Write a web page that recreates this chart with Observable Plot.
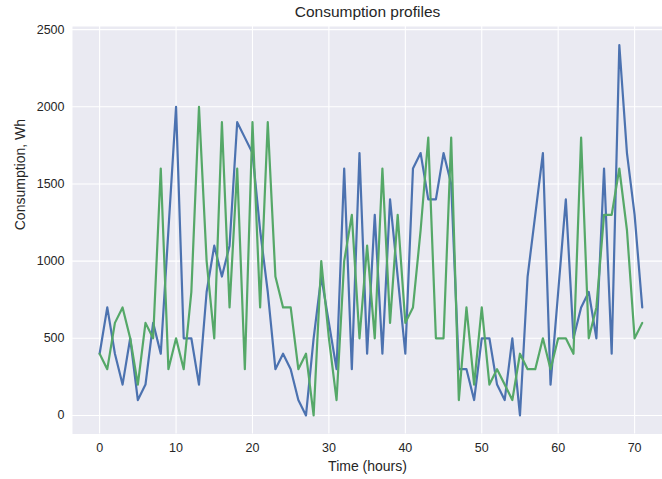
<!DOCTYPE html>
<html><head><meta charset="utf-8">
<script src="https://cdn.jsdelivr.net/npm/d3@7"></script>
<script src="https://cdn.jsdelivr.net/npm/@observablehq/plot@0.6"></script>
<style>body{margin:0;background:#fff} svg{display:block}</style>
</head><body><div id="chart"></div>
<script>
const hours = [0,1,2,3,4,5,6,7,8,9,10,11,12,13,14,15,16,17,18,19,20,21,22,23,24,25,26,27,28,29,30,31,32,33,34,35,
  36,37,38,39,40,41,42,43,44,45,46,47,48,49,50,51,52,53,54,55,56,57,58,59,60,61,62,63,64,65,66,67,68,69,70,71];
const profileA = [400,700,400,200,500,100,200,600,400,1200,2000,500,500,200,800,1100,900,1100,1900,1800,1700,1200,800,300,
  400,300,100,0,500,900,600,300,1600,300,1700,400,1300,400,1400,900,400,1600,1700,1400,1400,1700,1500,300,
  300,100,500,500,200,100,500,0,900,1300,1700,200,800,1400,500,700,800,500,1600,400,2400,1700,1300,700];
const profileB = [400,300,600,700,500,200,600,500,1600,300,500,300,800,2000,1000,500,1900,700,1600,300,1900,700,1900,900,
  700,700,300,400,0,1000,500,100,1000,1300,500,1100,500,1600,600,1300,600,700,1200,1800,500,500,1800,100,
  700,200,700,200,300,200,100,400,300,300,500,300,500,500,400,1800,500,700,1300,1300,1600,1200,500,600];
const xTicks = [0,10,20,30,40,50,60,70];
const yTicks = [0,500,1000,1500,2000,2500];
const title = "Consumption profiles";
const xLabel = "Time (hours)";
const yLabel = "Consumption, Wh";

const dataA = hours.map((h,i)=>({hour:h, value:profileA[i]}));
const dataB = hours.map((h,i)=>({hour:h, value:profileB[i]}));

const chart = Plot.plot({
  width: 662, height: 479,
  marginLeft: 72, marginRight: 0, marginTop: 26, marginBottom: 45.5,
  x: {domain: [-3.55, 73.65]},
  y: {domain: [-120, 2520]},
  style: {fontFamily: "'Liberation Sans', Arial, sans-serif", fontSize: "12px", color: "#262626", background: "#fff"},
  marks: [
    Plot.frame({fill: "#EAEAF2", stroke: null}),
    Plot.gridX(xTicks, {stroke: "#fff", strokeOpacity: 1, strokeWidth: 1.1}),
    Plot.gridY(yTicks, {stroke: "#fff", strokeOpacity: 1, strokeWidth: 1.1}),
    Plot.axisX(xTicks, {tickSize: 0, tickPadding: 9, label: null, fontSize: 12.5, tickFormat: d => String(d)}),
    Plot.axisY(yTicks, {tickSize: 0, tickPadding: 8, label: null, fontSize: 12.5, tickFormat: d => String(d)}),
    Plot.line(dataA, {x: "hour", y: "value", stroke: "#4C72B0", strokeWidth: 2.2}),
    Plot.line(dataB, {x: "hour", y: "value", stroke: "#55A868", strokeWidth: 2.2}),
    Plot.text([xLabel], {text: d => d, frameAnchor: "bottom", lineAnchor: "middle", dy: 33, fontSize: 14, fill: "#262626"}),
    Plot.text([yLabel], {text: d => d, frameAnchor: "left", dx: -52, rotate: -90, fontSize: 14, fill: "#262626"}),
    Plot.text([title], {text: d => d, frameAnchor: "top", lineAnchor: "middle", dy: -14, fontSize: 15.5, fill: "#262626"})
  ]
});
document.getElementById("chart").appendChild(chart);
</script>
</body></html>
